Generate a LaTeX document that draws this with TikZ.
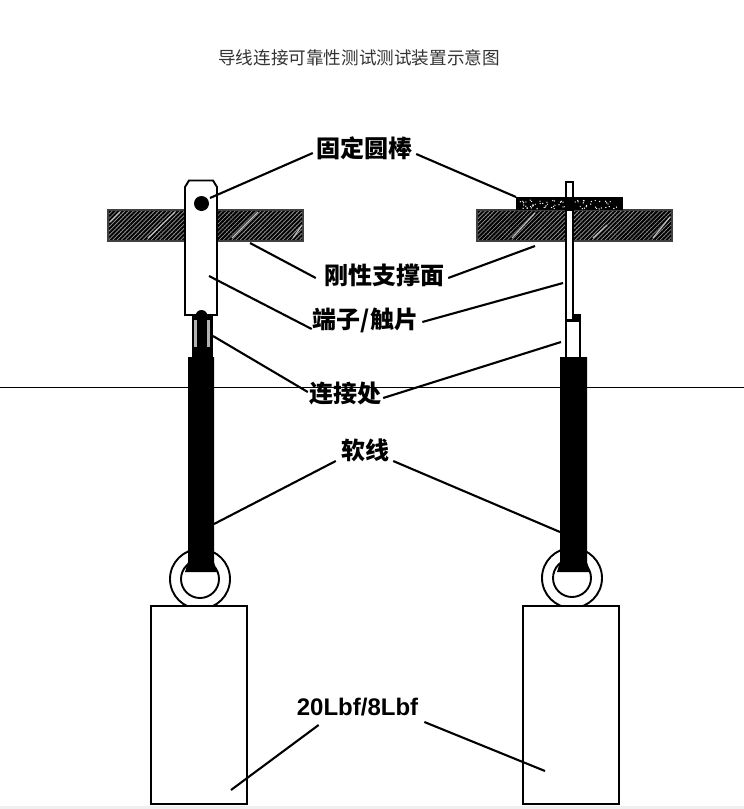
\documentclass[tikz,border=0pt]{standalone}
\usepackage{fontspec}
\setmainfont{Liberation Sans}
\newfontfamily\cjk{Noto Sans CJK SC}
\usetikzlibrary{patterns.meta}
\tikzset{
  titletext/.style={inner sep=0pt,font=\cjk\fontsize{17.6}{18}\selectfont,text=black!80},
  calltext/.style={inner sep=0pt,font=\cjk\bfseries\fontsize{24}{24}\selectfont},
  forcetext/.style={inner sep=0pt,font=\bfseries\fontsize{24}{26}\selectfont},
  leader/.style={line width=2.1pt,black},
  outline/.style={draw=black,line width=1.9pt,fill=white},
  plate/.style={pattern={Lines[angle=45,distance=3pt,line width=2pt]},pattern color=black},
  plateedge/.style={draw=black!75,line width=1.1pt},
  streak/.style={draw=black!25,line width=1.2pt}
}
\begin{document}
\begin{tikzpicture}[x=1pt,y=-1pt]
\useasboundingbox (0,0) rectangle (744,809);
\fill[white] (0,0) rectangle (744,809);
\fill[black!6] (0,806) rectangle (744,809);

% plates
\fill[black!40] (108,210) rectangle (303,241);
\fill[plate] (108,210) rectangle (303,241);
\draw[plateedge] (108,210) rectangle (303,241);
\fill[black!40] (477,210) rectangle (672,241);
\fill[plate] (477,210) rectangle (672,241);
\draw[plateedge] (477,210) rectangle (672,241);
\foreach \a/\b/\c/\d in {110/222/120/212,148/238/175/212,232/238/258/212,293/238/302/225,512/238/535/213,593/238/607/225,653/238/670/217}
  \draw[streak] (\a,\b) -- (\c,\d);

% left terminal and connection
\fill[black] (191.5,315) rectangle (213,358);
\fill[black!30] (194,320) rectangle (196.5,347);
\fill[black!30] (206.5,320) rectangle (209.5,347);
\draw[outline] (185,187) -- (189,180.5) -- (213,180.5) -- (217,187) -- (217,315) -- (185,315) -- cycle;
\fill[black] (195.5,316) arc (180:360:6);
\fill[black] (201.5,203.5) circle (7.5);

% left ring, wire, box
\draw[outline] (200,579) circle (30);
\draw[outline] (200,579) circle (19);
\fill[black] (188,357) -- (214,357) -- (214,562) -- (217,572) -- (185,572) -- (188,562) -- cycle;
\draw[outline] (151,606) rectangle (247,804);

% right terminal
\draw[outline,line width=2pt] (565.5,182) rectangle (573,320);
\fill[black] (516,197) rectangle (623,210);
\pgfmathsetseed{7}
\foreach \i in {1,...,70}{
  \pgfmathsetmacro{\px}{520+rnd*98}
  \pgfmathsetmacro{\py}{200+rnd*9}
  \fill[white] (\px,\py) circle (0.7);
}
\fill[black] (564.5,197) rectangle (574,211);
\fill[white] (567,212) rectangle (572,241);
\fill[black] (573,314) rectangle (581,322);
\draw[outline,line width=2pt] (566,320.5) rectangle (580,358);

% right ring, wire, box
\draw[outline] (572,578) circle (30);
\draw[outline] (572,578) circle (19);
\fill[black] (560,357) -- (587,357) -- (587,562) -- (590,572) -- (557,572) -- (560,562) -- cycle;
\draw[outline] (523,606) rectangle (619,804);

% horizontal rule
\coordinate (ruleL) at (0,387);
\coordinate (ruleR) at (744,387);
\draw[black,line width=0.8pt] (ruleL) -- (ruleR);

% texts
\node[titletext] (title) at (359,58) {导线连接可靠性测试测试装置示意图};
\node[calltext] (fix) at (364,148) {固定圆棒};
\node[calltext] (rigid) at (384,275) {刚性支撑面};
\node[calltext] (term) at (365.5,320) {端子/触片};
\node[calltext] (joint) at (345,394) {连接处};
\node[calltext] (wire) at (365,450) {软线};
\node[forcetext] (force) at (357.5,707) {20Lbf/8Lbf};

% free ends
\coordinate (fixL) at (210,198);
\coordinate (fixR) at (516,197);
\coordinate (rigidL) at (250,243);
\coordinate (rigidR) at (535,246);
\coordinate (termL) at (209,276);
\coordinate (termR) at (563,283);
\coordinate (jointL) at (213,336);
\coordinate (jointR) at (561,342);
\coordinate (wireL) at (214,524);
\coordinate (wireR) at (560,532);
\coordinate (forceL) at (231,790);
\coordinate (forceR) at (545,771);

% leaders
\draw[leader] ([shift={(-3,5)}]fix.west) -- (fixL);
\draw[leader] ([shift={(4,6)}]fix.east) -- (fixR);
\draw[leader] ([shift={(-8,3)}]rigid.west) -- (rigidL);
\draw[leader] ([shift={(4,3)}]rigid.east) -- (rigidR);
\draw[leader] ([shift={(-1,9)}]term.west) -- (termL);
\draw[leader] ([shift={(4,2)}]term.east) -- (termR);
\draw[leader] ([shift={(-1,-2)}]joint.west) -- (jointL);
\draw[leader] ([shift={(2,4)}]joint.east) -- (jointR);
\draw[leader] ([shift={(-5,11)}]wire.west) -- (wireL);
\draw[leader] ([shift={(4,11)}]wire.east) -- (wireR);
\draw[leader] ([shift={(22,18)}]force.west) -- (forceL);
\draw[leader] ([shift={(6,15)}]force.east) -- (forceR);
\end{tikzpicture}
\end{document}
